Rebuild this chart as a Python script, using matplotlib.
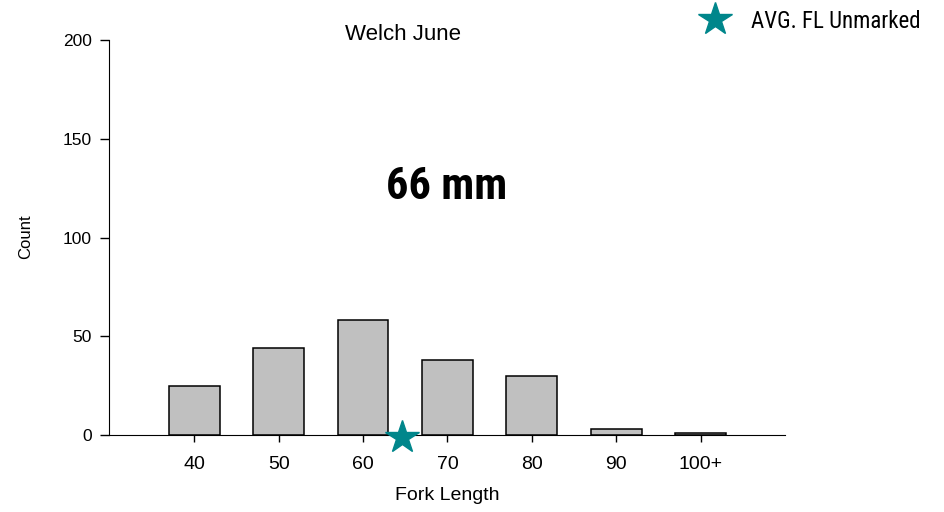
import numpy as np
import matplotlib.pyplot as plt
from matplotlib.lines import Line2D
from matplotlib import font_manager

plt.rcParams['font.family'] = ['Liberation Sans', 'DejaVu Sans']

# data
categories = ['40', '50', '60', '70', '80', '90', '100+']
counts = [25, 44, 58, 38, 30, 3, 1]
avg_fl_pos = 2.46   # position of average marker on the category axis
avg_label = '66 mm'

# pick a narrow font if one is installed
installed = set(f.name for f in font_manager.fontManager.ttflist)
narrow = None
for name in ['Liberation Sans Narrow', 'Arial Narrow', 'Roboto Condensed', 'Open Sans Condensed']:
    if name in installed:
        narrow = name
        break

fig = plt.figure(figsize=(9.44, 5.12), dpi=100)
ax = fig.add_axes([109 / 944, 1 - 435 / 512, 676 / 944, 395 / 512])

x = np.arange(len(categories))
ax.bar(x, counts, width=0.6, color='#C0C0C0', edgecolor='black', linewidth=1.1, zorder=2)
ax.plot([avg_fl_pos], [-1], marker='*', color='#00868B', markersize=25,
        linestyle='none', clip_on=False, zorder=5)

ax.set_xlim(-1.01, 7.0)
ax.set_ylim(0, 200)
ax.set_xticks(x)
ax.set_xticklabels(categories, fontsize=14)
ax.set_yticks([0, 50, 100, 150, 200])
ax.tick_params(axis='y', labelsize=12.5, direction='out', length=6.5, width=1, pad=6)
ax.tick_params(axis='x', direction='out', length=5, width=1, pad=10)
ax.spines['top'].set_visible(False)
ax.spines['right'].set_visible(False)

ax.set_xlabel('Fork Length', fontsize=14)
ax.xaxis.set_label_coords(338 / 676, -52 / 395)
ax.set_ylabel('Count', fontsize=12)
ax.yaxis.set_label_coords(-76 / 676, 198 / 395)

fig.text(403 / 944, 1 - 35 / 512, 'Welch June', fontsize=16, ha='center', va='center')
if narrow:
    fig.text(447 / 944, 1 - 187 / 512, avg_label, fontsize=32, fontweight='bold',
             ha='center', va='center', family=[narrow, 'Liberation Sans'])
else:
    fig.text(447 / 944, 1 - 187 / 512, avg_label, fontsize=30, fontweight='bold',
             ha='center', va='center')

handle = Line2D([], [], marker='*', color='#00868B', markersize=25, linestyle='none')
leg_font = {'family': [narrow, 'Liberation Sans'], 'size': 16.5} if narrow else {'size': 14}
fig.legend([handle], ['AVG. FL Unmarked'], loc='center left',
           bbox_to_anchor=(694 / 944, 1 - 21 / 512), frameon=False, prop=leg_font,
           handlelength=1.8, handletextpad=0.7, borderaxespad=0, borderpad=0)

plt.savefig('out.png', dpi=100)
